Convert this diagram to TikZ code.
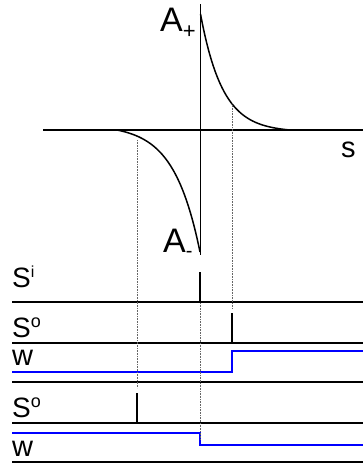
\documentclass[tikz,border=0pt]{standalone}
\usepackage{fontspec}
\setmainfont{Liberation Sans}
\begin{document}
\begin{tikzpicture}[x=1pt,y=-1pt,
 axis/.style={line width=1.3pt},
 vaxis/.style={line width=0.8pt},
 track/.style={line width=1.4pt},
 spike/.style={line width=2pt},
 wline/.style={blue, line width=1.8pt},
 guide/.style={black!60, line width=0.7pt, dash pattern=on 0.8pt off 0.8pt},
 curve/.style={line width=1.5pt},
 big/.style={font=\fontsize{34}{34}\selectfont, inner sep=0, anchor=base west},
 lab/.style={font=\fontsize{28}{28}\selectfont, inner sep=0, anchor=base west},
 wlab/.style={font=\fontsize{29}{29}\selectfont, inner sep=0, anchor=base west},
]
\useasboundingbox (0,0) rectangle (363,463);
% axes
\draw[axis] (43,130) -- (363,130);
\draw[vaxis] (200,4) -- (200,255);
% curves
\draw[curve] plot[domain=200.5:290,samples=80] (\x,{130-116*(exp(-(\x-200.5)/22)-exp(-89.5/22))/(1-exp(-89.5/22))});
\draw[curve] plot[domain=117:200,samples=80] (\x,{130+122*(exp((\x-200)/26)-exp(-83/26))/(1-exp(-83/26))});
% labels
\node[big] (ap) at (160,31) {A\raisebox{-7pt}{\fontsize{22}{22}\selectfont +}};
\node[big] (am) at (163,252) {A\raisebox{-5pt}{\fontsize{20}{20}\selectfont -}};
\node[wlab] (s) at (341,157) {s};
% tracks
\draw[track] (12,302) -- (363,302);
\draw[track] (12,343) -- (363,343);
\draw[track] (12,382) -- (363,382);
\draw[track] (12,423) -- (363,423);
\draw[track] (12,462) -- (363,462);
\node[lab] (si) at (12,287) {S\raisebox{10pt}{\fontsize{16}{16}\selectfont i}};
\node[lab] (so1) at (12,337) {S\raisebox{10pt}{\fontsize{18}{18}\selectfont o}};
\node[wlab] (w1) at (12,365) {w};
\node[lab] (so2) at (12,417) {S\raisebox{10pt}{\fontsize{18}{18}\selectfont o}};
\node[wlab] (w2) at (12,456) {w};
% spikes
\draw[spike] (200,272) -- (200,302);
\draw[spike] (232,313) -- (232,343);
\draw[spike] (137,393) -- (137,423);
% w traces
\draw[wline] (12,372) -- (232,372) -- (232,351) -- (363,351);
\draw[wline] (12,433) -- (200,433) -- (200,445) -- (363,445);
% guides
\draw[guide] (137,140) -- (137,388);
\draw[guide] (232,103) -- (232,308);
\draw[guide] (200.5,303) -- (200.5,440);
\end{tikzpicture}
\end{document}
